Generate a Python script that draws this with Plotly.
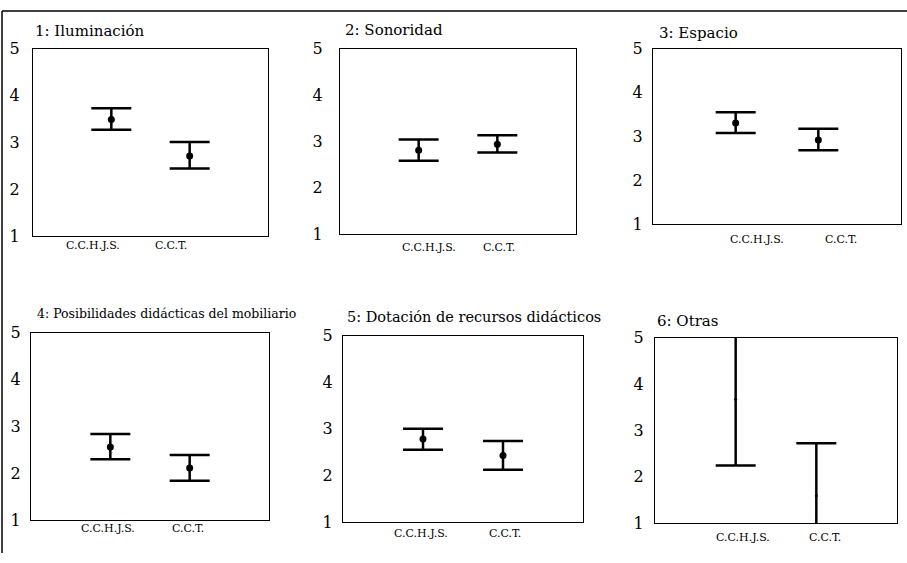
import plotly.graph_objects as go

# ---------------- data ----------------
groups = ["C.C.H.J.S.", "C.C.T."]
group_x = [1, 2]
titles = [
    "1: Iluminación",
    "2: Sonoridad",
    "3: Espacio",
    "4: Posibilidades didácticas del mobiliario",
    "5: Dotación de recursos didácticos",
    "6: Otras",
]
y_ticks = [1, 2, 3, 4, 5]

mean_1 = [3.49, 2.71]
lower_1 = [3.27, 2.44]
upper_1 = [3.73, 3.01]

mean_2 = [2.81, 2.94]
lower_2 = [2.58, 2.76]
upper_2 = [3.04, 3.13]

mean_3 = [3.31, 2.92]
lower_3 = [3.08, 2.69]
upper_3 = [3.55, 3.18]

mean_4 = [2.56, 2.11]
lower_4 = [2.30, 1.84]
upper_4 = [2.84, 2.39]

mean_5 = [2.78, 2.43]
lower_5 = [2.55, 2.12]
upper_5 = [3.00, 2.74]

mean_6 = [3.67, 1.59]
lower_6 = [2.24, 0.46]
upper_6 = [5.10, 2.72]

means = [mean_1, mean_2, mean_3, mean_4, mean_5, mean_6]
lowers = [lower_1, lower_2, lower_3, lower_4, lower_5, lower_6]
uppers = [upper_1, upper_2, upper_3, upper_4, upper_5, upper_6]

# ---------------- layout / style ----------------
W, H = 907, 563
FONT = "DejaVu Serif, Liberation Serif, serif"
# panel boxes in pixels: (left, right, top, bottom)
boxes = [(33, 268, 41, 235), (340, 576, 41, 233), (653, 901, 41, 223),
         (31, 269, 335, 529), (343, 583, 338, 531), (655, 897, 340, 532)]
label_shift = [(-18, -19), (10, 2), (21, 23), (-2, -2), (-2, 2), (7, 9)]
label_y = [245, 247, 239, 538, 543, 547]
title_pos = [(33, 23), (343, 22), (657, 25), (35, 315), (345, 319), (655, 323)]
title_size = [15, 15, 15, 12.5, 14.5, 15]
tick_standoff = [9, 13, 6, 6, 6, 7]
marker_size = [7, 7, 7, 7, 7, 3]

fig = go.Figure()
annotations = []

for i in range(6):
    k = "" if i == 0 else str(i + 1)
    xa, ya = "x" + k, "y" + k
    err_plus = [u - m for u, m in zip(uppers[i], means[i])]
    err_minus = [m - l for m, l in zip(means[i], lowers[i])]
    fig.add_trace(go.Scatter(
        x=group_x, y=means[i], xaxis=xa, yaxis=ya, mode="markers",
        marker=dict(color="black", size=marker_size[i]),
        error_y=dict(type="data", symmetric=False, array=err_plus,
                     arrayminus=err_minus, color="black", thickness=2.5, width=20),
        cliponaxis=True, showlegend=False, hoverinfo="skip",
    ))
    l, r, t, b = boxes[i]
    axis_common = dict(showgrid=False, zeroline=False, showline=True,
                       linecolor="black", linewidth=1.3, mirror=True)
    fig.layout["xaxis" + k] = dict(
        domain=[l / W, r / W], range=[0, 3], anchor=ya,
        showticklabels=False, ticks="", fixedrange=True, **axis_common)
    fig.layout["yaxis" + k] = dict(
        domain=[1 - b / H, 1 - t / H], range=[1, 5], anchor=xa,
        tickvals=y_ticks, ticks="", ticklabelstandoff=tick_standoff[i],
        tickfont=dict(family=FONT, size=16, color="black"), fixedrange=True,
        **axis_common)
    # panel title
    tx, ty = title_pos[i]
    annotations.append(dict(
        text=titles[i], x=tx / W, y=1 - ty / H, xref="paper", yref="paper",
        xanchor="left", yanchor="middle", showarrow=False,
        font=dict(family=FONT, size=title_size[i], color="black")))
    # category labels
    for j, g in enumerate(groups):
        annotations.append(dict(
            text=g, x=group_x[j], y=1 - label_y[i] / H, xref=xa, yref="paper",
            xanchor="center", yanchor="middle", xshift=label_shift[i][j],
            showarrow=False, font=dict(family=FONT, size=11, color="black")))

fig.update_layout(
    width=W, height=H, margin=dict(l=0, r=0, t=0, b=0),
    paper_bgcolor="white", plot_bgcolor="white",
    annotations=annotations,
    shapes=[
        dict(type="line", xref="paper", yref="paper", x0=2 / W, x1=1, y0=1 - 2 / H, y1=1 - 2 / H,
             line=dict(color="black", width=1.5)),
        dict(type="line", xref="paper", yref="paper", x0=2 / W, x1=2 / W, y0=0, y1=1 - 2 / H,
             line=dict(color="black", width=1.5)),
    ],
)

fig.write_html("out.html", config={"displayModeBar": False},
               post_script="document.body.style.margin='0';document.body.style.overflow='hidden';")
